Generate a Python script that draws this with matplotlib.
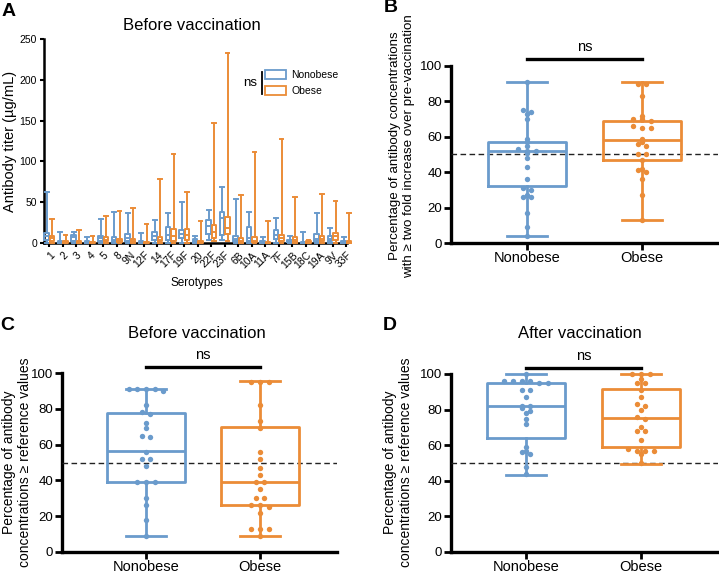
import numpy as np
import matplotlib
matplotlib.use("Agg")
import matplotlib.pyplot as plt
from matplotlib.patches import Patch

plt.rcParams['font.family'] = ['Liberation Sans', 'DejaVu Sans']

BLUE = '#6a9bcc'
ORANGE = '#eb8c37'

# ---- panel A: antibody titers per serotype (min, q1, median, q3, max)
serotypes = ['1', '2', '3', '4', '5', '8', '9N', '12F', '14', '17F', '19F', '20',
             '22F', '23F', '6B', '10A', '11A', '7F', '15B', '18C', '19A', '9V', '33F']
nb_min = [0, 0, 0, 0, 0, 0, 0, 0, 0, 0, 0, 0, 4, 4, 0, 0, 0, 0, 0, 0, 0, 0, 0]
nb_q1 = [4, 0.5, 3, 0.3, 3, 2, 3, 0.3, 4, 4, 6, 1, 11, 10, 2, 2, 0.3, 5, 0.8, 0.2, 2, 3, 0.3]
nb_med = [8, 1, 7, 1, 6, 4, 6, 1, 8, 10, 11, 3, 21, 31, 5, 6, 1, 10, 2, 0.5, 5, 5, 1]
nb_q3 = [12, 3, 10, 2, 9, 7, 11, 2, 13, 20, 16, 5, 28, 38, 9, 20, 2, 16, 4, 1, 11, 8, 2]
nb_max = [62, 13, 14, 7, 29, 38, 37, 12, 28, 37, 50, 9, 40, 69, 54, 38, 7, 31, 8, 14, 37, 18, 7]
ob_min = [0, 0, 0, 0, 0, 0, 0, 0, 0, 0, 0, 0, 3, 3, 0, 0, 0, 0, 0, 0, 0, 0, 0]
ob_q1 = [3, 0.3, 0.3, 0.2, 2, 1, 1, 0.2, 2, 3, 4, 0.4, 6, 11, 1, 1, 0.2, 3, 1.6, 0.3, 2, 4, 0.3]
ob_med = [6, 1, 1, 0.5, 4, 3, 2, 0.5, 4, 8, 10, 1, 14, 18, 3, 3, 0.5, 6, 4, 1, 5, 8, 1]
ob_q3 = [9, 3, 3, 1, 7, 5, 5, 1, 7, 17, 17, 2, 22, 32, 6, 7, 1, 10, 7, 2, 8, 12, 2]
ob_max = [29, 10, 16, 9, 33, 39, 43, 23, 78, 109, 62, 27, 147, 233, 59, 111, 27, 128, 56, 4, 60, 52, 37]

# ---- panels B-D: percentage of serotypes per subject group
groups = ['Nonobese', 'Obese']
b_nb = [91, 75, 74, 73, 70, 59, 57, 55, 53, 52, 52, 51, 48, 43, 36, 31, 30, 27, 26, 26, 17, 9, 4]
b_ob = [90, 90, 83, 72, 70, 70, 69, 66, 65, 65, 59, 57, 56, 55, 50, 50, 47, 42, 41, 40, 36, 27, 13]
b_box = [(4, 32, 52, 57, 91), (13, 47, 58, 69, 91)]
c_nb = [91, 91, 91, 91, 90, 82, 78, 77, 72, 69, 65, 64, 56, 52, 52, 48, 39, 39, 39, 30, 26, 18, 9]
c_ob = [95, 95, 95, 82, 73, 69, 56, 52, 47, 43, 39, 39, 35, 30, 30, 26, 26, 25, 22, 13, 13, 13, 9]
c_box = [(9, 39, 56.5, 77.5, 91), (9, 26, 39, 70, 95.5)]
d_nb = [100, 96, 96, 96, 96, 95, 95, 91, 91, 87, 82, 82, 81, 79, 78, 75, 72, 59, 57, 56, 55, 48, 44]
d_ob = [100, 100, 100, 97, 95, 95, 91, 87, 83, 82, 80, 76, 75, 70, 68, 68, 63, 58, 57, 57, 57, 55, 50]
d_box = [(43.5, 64, 82, 95, 100), (49.5, 59, 75.5, 91.5, 100)]

W, H = 719, 574
fig = plt.figure(figsize=(W / 100, H / 100), dpi=100)


def px_axes(l, t, r, b):
    return fig.add_axes([l / W, 1 - b / H, (r - l) / W, (b - t) / H])


def px_text(x, y, s, **kw):
    fig.text(x / W, 1 - y / H, s, **kw)


def stats(mn, q1, md, q3, mx):
    return dict(whislo=mn, q1=q1, med=md, q3=q3, whishi=mx, fliers=[])


def draw_box(ax, st, pos, color, lw, width, capw):
    ax.bxp([st], positions=[pos], widths=width, capwidths=capw, showfliers=False,
           boxprops=dict(color=color, lw=lw), whiskerprops=dict(color=color, lw=lw),
           capprops=dict(color=color, lw=lw), medianprops=dict(color=color, lw=lw),
           manage_ticks=False)
    for art in ax.lines:
        art.set_clip_on(False)
        art.set_zorder(3)


def style_axes(ax, lw):
    for s in ['top', 'right']:
        ax.spines[s].set_visible(False)
    for s in ['left', 'bottom']:
        ax.spines[s].set_linewidth(lw)


# ---------------- A
axA = px_axes(44, 39, 347, 243)
x = np.arange(len(serotypes))
for i in range(len(serotypes)):
    draw_box(axA, stats(nb_min[i], nb_q1[i], nb_med[i], nb_q3[i], nb_max[i]),
             x[i] - 0.2, BLUE, 1.4, 0.34, 0.28)
    draw_box(axA, stats(ob_min[i], ob_q1[i], ob_med[i], ob_q3[i], ob_max[i]),
             x[i] + 0.2, ORANGE, 1.4, 0.34, 0.28)
axA.set_xlim(-0.4, 22.05)
axA.set_ylim(0, 250)
axA.set_yticks([0, 50, 100, 150, 200, 250])
axA.set_xticks(x)
axA.set_xticklabels(serotypes, rotation=45, ha='right', rotation_mode='anchor')
axA.tick_params(labelsize=7.5, width=1.5, length=3, pad=2)
style_axes(axA, 1.8)
px_text(197, 283, 'Serotypes', ha='center', va='center', fontsize=8.5)
px_text(10, 141, 'Antibody titer (µg/mL)', rotation=90, ha='center', va='center', fontsize=10.5)
px_text(192, 26, 'Before vaccination', ha='center', va='center', fontsize=12)
px_text(2, 11, 'A', fontsize=14, fontweight='bold', va='center')
handles = [Patch(facecolor='white', edgecolor=BLUE, lw=1.3, label='Nonobese'),
           Patch(facecolor='white', edgecolor=ORANGE, lw=1.3, label='Obese')]
axA.legend(handles=handles, loc='center left', bbox_to_anchor=(265 / W, 1 - 83 / H),
           bbox_transform=fig.transFigure, frameon=False, fontsize=7.5,
           handlelength=2.0, handleheight=0.9, handletextpad=0.5, labelspacing=0.55,
           borderaxespad=0, borderpad=0)
px_text(250, 83, 'ns', ha='center', va='center', fontsize=9.5)
fig.add_artist(plt.Line2D([262 / W, 262 / W], [1 - 72 / H, 1 - 94 / H], color='black', lw=1.3))


# ---------------- B, C, D
def group_panel(box, lim, vals, boxes, bar_y, letter, lxy, ylabel, ycenter, ylx, ylfs,
                title=None, txy=None):
    l, t, r, b = box
    ax = px_axes(l, t, r, b)
    colors = [BLUE, ORANGE]
    for g in range(2):
        draw_box(ax, stats(*boxes[g]), g, colors[g], 2.0, 0.68, 0.35)
        v = np.array(vals[g], dtype=float)
        offs = np.zeros(len(v))
        for val in np.unique(np.round(v / 2.5)):
            idx = np.where(np.round(v / 2.5) == val)[0]
            offs[idx] = (np.arange(len(idx)) - (len(idx) - 1) / 2) * 0.075
        ax.scatter(g + offs, v, s=15, color=colors[g], zorder=4, clip_on=False, linewidths=0)
    ax.axhline(50, color='#222222', lw=1.0, ls=(0, (4, 2.5)), zorder=2.6)
    ax.set_xlim(*lim)
    ax.set_ylim(0, 100)
    ax.set_yticks([0, 20, 40, 60, 80, 100])
    ax.set_xticks([0, 1])
    ax.set_xticklabels(groups, fontsize=10.5)
    ax.tick_params(axis='y', labelsize=9.5, pad=1.5)
    ax.tick_params(axis='x', pad=1)
    ax.tick_params(width=2, length=5)
    style_axes(ax, 2.4)
    ax.plot([0, 1], [bar_y, bar_y], color='black', lw=2.4, clip_on=False)
    ax.text(0.5, bar_y + 2.5, 'ns', ha='center', va='bottom', fontsize=10.5)
    px_text(lxy[0], lxy[1], letter, fontsize=14, fontweight='bold', va='center')
    px_text(ylx, ycenter, ylabel, rotation=90, ha='center', va='center', fontsize=ylfs,
            multialignment='center', linespacing=1.25)
    if title:
        px_text(txy[0], txy[1], title, ha='center', va='center', fontsize=12)
    return ax


group_panel((451, 66, 718, 243), (-0.66, 1.66), [b_nb, b_ob], b_box, 104, 'B', (384, 8),
            'Percentage of antibody concentrations\nwith ≥ two fold increase over pre-vaccination',
            146, 402, 9.6)
group_panel((62, 373, 337, 552), (-0.737, 1.675), [c_nb, c_ob], c_box, 103.4, 'C', (0, 325),
            'Percentage of antibody\nconcentrations ≥ reference values', 462, 17, 10,
            'Before vaccination', (197, 333))
group_panel((451, 374, 718, 552), (-0.652, 1.67), [d_nb, d_ob], d_box, 103.4, 'D', (383, 325),
            'Percentage of antibody\nconcentrations ≥ reference values', 462, 398, 10,
            'After vaccination', (580, 333))

fig.savefig('out.png', dpi=100)
